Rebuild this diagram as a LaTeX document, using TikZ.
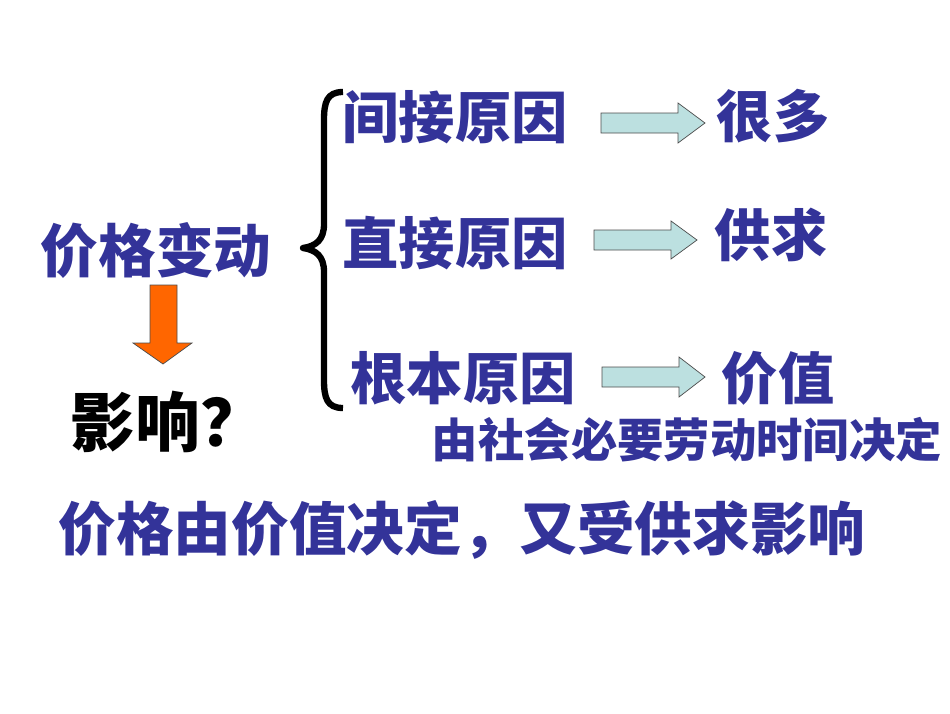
\documentclass[tikz,border=0pt]{standalone}
\usepackage{fontspec}
\usetikzlibrary{positioning}
\newfontfamily\cjk{Noto Sans CJK SC}
\definecolor{txtblue}{HTML}{333399}
\definecolor{arrcyan}{HTML}{BCE0E0}
\definecolor{arrorange}{HTML}{FF6600}

\begin{document}
\begin{tikzpicture}[x=0.5mm,y=-0.5mm,
  big/.style={font=\cjk\bfseries\fontsize{80}{80}\selectfont,text=txtblue,inner sep=0pt},
  small/.style={font=\cjk\bfseries\fontsize{66}{66}\selectfont,text=txtblue,inner sep=0pt},
  blk/.style={fill=arrcyan,draw=black!70,line width=1pt}
]
\useasboundingbox (0,0) rectangle (950,713);

% ---- Left side ----------------------------------------------
\node[big,font=\cjk\bfseries\fontsize{82}{82}\selectfont] (price) at (156,250) {价格变动};
\node[font=\cjk\bfseries\fontsize{92}{92}\selectfont,inner sep=0pt] (effect) at (168,422) {影响？};
\draw[fill=arrorange,draw=black!70,line width=1pt]
  (150,285) -- (177,285) -- (177,343) -- (192,343) -- (163,364)
  -- (133,343) -- (150,343) -- cycle;

% ---- Brace --------------------------------------------------
\draw[line width=9pt,line join=round]
  (343,92) .. controls (327,92) and (324,102) .. (324,120) -- (324,224)
  .. controls (324,240) and (316,246) .. (303,248)
  .. controls (316,250) and (324,256) .. (324,272) -- (324,380)
  .. controls (324,398) and (327,408) .. (343,408);

% ---- Row 1 --------------------------------------------------
\node[big] (r1) at (455,117) {间接原因};
\node[big] (res1) at (773,116) {很多};
\draw[blk] (601,113) -- (678,113) -- (678,103) -- (705,123)
  -- (678,143) -- (678,133) -- (601,133) -- cycle;

% ---- Row 2 --------------------------------------------------
\node[big] (r2) at (455,243) {直接原因};
\node[big] (res2) at (771,235) {供求};
\draw[blk] (594,230) -- (671,230) -- (671,221) -- (697,240)
  -- (671,259) -- (671,250) -- (594,250) -- cycle;

% ---- Row 3 --------------------------------------------------
\node[big] (r3) at (463,378) {根本原因};
\node[big] (res3) at (778,378) {价值};
\draw[blk] (602,367) -- (679,367) -- (679,357) -- (705,377)
  -- (679,397) -- (679,387) -- (602,387) -- cycle;
\node[small] (note) at (687,440) {由社会必要劳动时间决定};

% ---- Conclusion ---------------------------------------------
\node[big,font=\cjk\bfseries\fontsize{82}{82}\selectfont] (sum) at (462,530) {价格由价值决定，又受供求影响};

\end{tikzpicture}
\end{document}
